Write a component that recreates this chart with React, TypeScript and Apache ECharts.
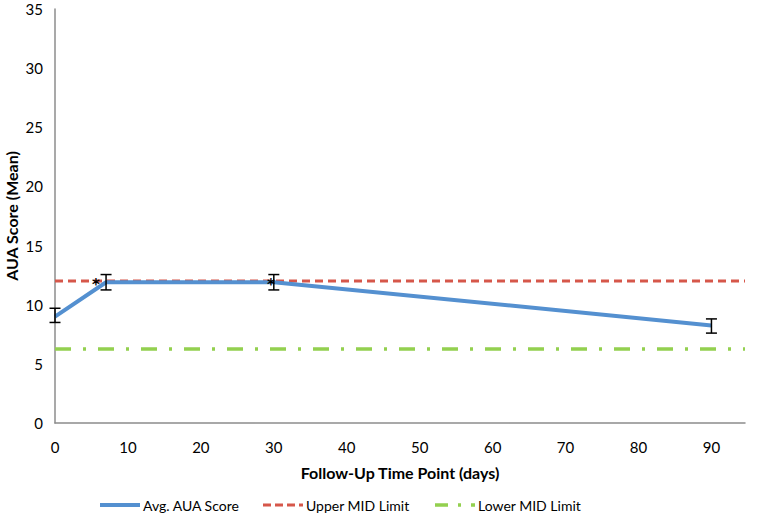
import React, { useEffect, useRef } from "react";
import * as echarts from "echarts";

const days = [0, 7, 30, 90];
const avgScore = [9.0, 11.9, 11.9, 8.25];
const errLow = [8.5, 11.25, 11.25, 7.6];
const errHigh = [9.7, 12.55, 12.55, 8.8];
const upperMid = 12.0;
const lowerMid = 6.25;
const asteriskX = [5.6, 29.6];
const asteriskY = [12.0, 12.0];
const xMax = 94.6;
const yTicks = [0, 5, 10, 15, 20, 25, 30, 35];
const legendNames = ["Avg. AUA Score", "Upper MID Limit", "Lower MID Limit"];

const FONT = "Lato, 'Open Sans', sans-serif";
const BLUE = "#5490d0";
const RED = "#d6574a";
const GREEN = "#93d04f";

export default function App() {
  const ref = useRef<HTMLDivElement>(null);
  useEffect(() => {
    if (!ref.current) return;
    const chart = echarts.init(ref.current, undefined, { renderer: "svg" });
    const errData = days.map((d, i) => [d, errLow[i], errHigh[i]]);
    const legendX = [100, 263, 435];
    const legendY = 505;
    const legendStyles = [
      { stroke: BLUE, lineWidth: 4 },
      { stroke: RED, lineWidth: 3, lineDash: [8, 4] },
      { stroke: GREEN, lineWidth: 3.5, lineDash: [13, 10, 3, 10] },
    ];
    const graphic: any[] = [];
    legendNames.forEach((n, i) => {
      graphic.push({
        type: "line",
        shape: { x1: legendX[i], y1: legendY, x2: legendX[i] + 40, y2: legendY },
        style: legendStyles[i],
      });
      graphic.push({
        type: "text",
        x: legendX[i] + 43,
        y: legendY,
        style: { text: n, fontSize: 14, fill: "#000", fontFamily: FONT, verticalAlign: "middle" },
      });
    });
    chart.setOption({
      animation: false,
      textStyle: { fontFamily: FONT },
      grid: { left: 55, right: 13, top: 9, bottom: 92, containLabel: false, outerBoundsMode: "none" },
      graphic,
      xAxis: {
        type: "value",
        min: 0,
        max: xMax,
        interval: 10,
        name: "Follow-Up Time Point (days)",
        nameLocation: "middle",
        nameGap: 41,
        nameMoveOverlap: false,
        nameTextStyle: { fontSize: 16, fontWeight: "bold", color: "#000", fontFamily: FONT },
        axisLine: { show: true, lineStyle: { color: "#8c8c8c", width: 1.5 } },
        axisTick: { show: false },
        splitLine: { show: false },
        axisLabel: { fontSize: 15, color: "#000", margin: 16, showMaxLabel: false, fontFamily: FONT },
      },
      yAxis: {
        type: "value",
        min: yTicks[0],
        max: yTicks[yTicks.length - 1],
        interval: 5,
        name: "AUA Score (Mean)",
        nameLocation: "middle",
        nameGap: 36,
        nameMoveOverlap: false,
        nameTextStyle: { fontSize: 16, fontWeight: "bold", color: "#000", fontFamily: FONT, lineHeight: 16 },
        axisLine: { show: true, lineStyle: { color: "#8c8c8c", width: 1.5 } },
        axisTick: { show: false },
        splitLine: { show: false },
        axisLabel: { fontSize: 15, lineHeight: 15, color: "#000", margin: 12, fontFamily: FONT },
      },
      series: [
        {
          name: legendNames[1],
          type: "line",
          data: [[0, upperMid], [xMax, upperMid]],
          symbol: "none",
          lineStyle: { color: RED, width: 3, type: [8, 5] },
          z: 2,
        },
        {
          name: legendNames[2],
          type: "line",
          data: [[0, lowerMid], [xMax, lowerMid]],
          symbol: "none",
          lineStyle: { color: GREEN, width: 3.5, type: [16, 12, 3, 12] },
          z: 2,
        },
        {
          name: legendNames[0],
          type: "line",
          data: days.map((d, i) => [d, avgScore[i]]),
          symbol: "none",
          lineStyle: { color: BLUE, width: 4 },
          z: 3,
        },
        {
          type: "custom",
          data: errData,
          z: 4,
          renderItem: (params: any, api: any) => {
            const x = api.value(0);
            const lo = api.coord([x, api.value(1)]);
            const hi = api.coord([x, api.value(2)]);
            const hw = 5.5;
            const st = { stroke: "#000", lineWidth: 1.5 };
            return {
              type: "group",
              children: [
                { type: "line", shape: { x1: lo[0], y1: lo[1], x2: hi[0], y2: hi[1] }, style: st },
                { type: "line", shape: { x1: lo[0] - hw, y1: lo[1], x2: lo[0] + hw, y2: lo[1] }, style: st },
                { type: "line", shape: { x1: hi[0] - hw, y1: hi[1], x2: hi[0] + hw, y2: hi[1] }, style: st },
              ],
            };
          },
        },
        {
          type: "custom",
          data: asteriskX.map((x, i) => [x, asteriskY[i]]),
          z: 5,
          renderItem: (params: any, api: any) => {
            const p = api.coord([api.value(0), api.value(1)]);
            return {
              type: "text",
              x: p[0],
              y: p[1] + 4,
              style: {
                text: "*",
                fontSize: 15,
                fontWeight: "bold",
                fill: "#000",
                fontFamily: "'DejaVu Sans', sans-serif",
                align: "center",
                verticalAlign: "middle",
              },
            };
          },
        },
      ],
    });
    return () => chart.dispose();
  }, []);
  return (
    <div
      ref={ref}
      style={{ position: "fixed", left: 0, top: 0, width: 758, height: 515, background: "#fff" }}
    />
  );
}
